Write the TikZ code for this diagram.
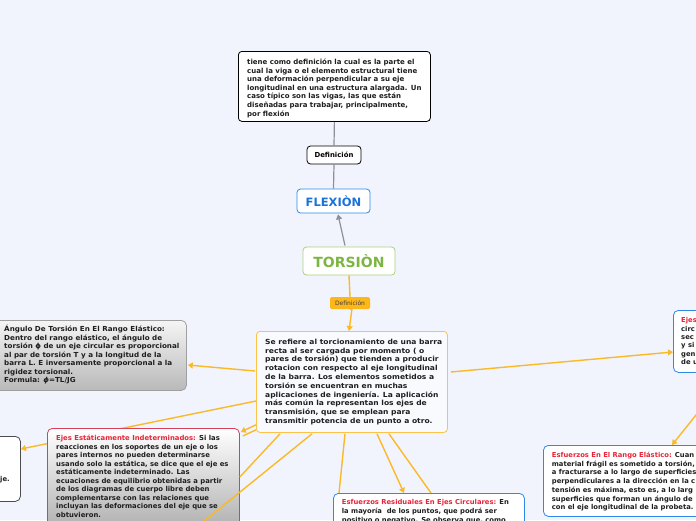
\documentclass[tikz,border=0pt]{standalone}
\usepackage{fontspec}
\setmainfont{DejaVu Sans}
\newfontfamily\fmain[FakeStretch=1.08]{DejaVu Sans}
\newfontfamily\fang[FakeStretch=1.04]{DejaVu Sans}
\usetikzlibrary{arrows.meta,calc}
\definecolor{bg}{RGB}{241,244,252}
\definecolor{org}{RGB}{251,185,40}
\definecolor{orgtag}{RGB}{253,183,24}
\definecolor{gline}{RGB}{140,144,153}
\definecolor{blueb}{RGB}{47,137,232}
\definecolor{bluet}{RGB}{26,115,217}
\definecolor{greenb}{RGB}{168,210,124}
\definecolor{greent}{RGB}{125,181,68}
\definecolor{redt}{RGB}{232,36,58}
\definecolor{redb}{RGB}{214,64,88}
\definecolor{tdark}{RGB}{30,30,30}
\definecolor{grayb}{RGB}{160,160,160}
\tikzset{
  box/.style={draw, rounded corners=3.5pt, line width=0.8pt, inner sep=0pt, anchor=north west},
  txt/.style={anchor=north west, inner sep=0pt, align=left, text=tdark,
    font=\fontsize{6.8}{8.6}\selectfont\bfseries},
  oline/.style={draw=org, line width=1.4pt},
  oarrow/.style={oline, -{Triangle[length=5pt,width=6pt]}},
  gconn/.style={draw=gline, line width=1.2pt},
}
\begin{document}
\begin{tikzpicture}[x=1pt,y=-1pt]
\useasboundingbox (0,0) rectangle (696,520);
\fill[bg] (0,0) rectangle (696,520);

% boxes
\node[box, draw=black, fill=white, minimum width=192pt, minimum height=70pt] (top) at (238,51) {};
\node[box, draw=black, fill=white, minimum width=54pt, minimum height=18pt, font=\fontsize{6.9}{8}\selectfont\bfseries, anchor=center] (def1) at (334,155) {Definición};
\node[box, draw=blueb, fill=white, minimum width=73pt, minimum height=24pt, anchor=center, text=bluet, font=\fontsize{11.5}{13}\selectfont\bfseries] (flex) at (333.5,201) {FLEXIÒN};
\node[box, draw=greenb, fill=white, minimum width=92pt, minimum height=28pt, anchor=center, text=greent, font=\fontsize{14}{16}\selectfont\bfseries] (tors) at (349,261) {TORSIÒN};
\node[draw=none, fill=orgtag, rounded corners=1.5pt, minimum width=40pt, minimum height=12pt, inner sep=0pt, text=black!75, font=\fontsize{6}{7}\selectfont] (def2) at (350,303) {Definición};
\node[box, draw=org!85, fill=white!50!bg, minimum width=191pt, minimum height=101pt] (main) at (256,331) {};

% connectors (behind other boxes)
\draw[gconn] (top.south) -- (def1.north);
\draw[gconn] (def1.south) -- (flex.north);
\draw[gconn, -{Triangle[length=5pt,width=6pt]}] ($(tors.north)+(-4,-1)$) -- ($(flex.south)+(4.5,1)$);
\draw[oline] (tors.south) -- (def2.north);
\draw[oarrow] (def2.south) -- (main.north |- def2.south) -- ($(main.north west)+(93,0)$);

\node[box, draw=black!70, fill=white, minimum width=30pt, minimum height=65pt, rounded corners=5pt] (lbot) at (-10,436) {};
\draw[oarrow] ($(main.north west)+(0,70)$) -- ($(lbot.north east)+(0,13)$);
\node[txt] (lbottxt) at (0,476) {je.};

\node[box, draw=grayb, top color=white!92!gray, bottom color=gray!55, minimum width=192pt, minimum height=70pt, rounded corners=5pt] (ang) at (-6,320) {};
\draw[oarrow] ($(main.north west)+(-1,40)$) -- ($(ang.north east)+(1,45)$);
\node[txt, font=\fang\fontsize{6.9}{8.5}\selectfont\bfseries] (angtxt) at (4,325.3) {Ángulo De Torsión En El Rango Elástico:\\
Dentro del rango elástico, el ángulo de\\
torsión ϕ de un eje circular es proporcional\\
al par de torsión T y a la longitud de la\\
barra L. E inversamente proporcional a la\\
rigidez torsional.\\
Formula: \textit{ϕ}=TL/JG};

\node[box, draw=redb, top color=white, bottom color=gray!65, minimum width=192pt, minimum height=105pt, rounded corners=5pt] (ejes) at (47,428) {};
\draw[oarrow] ($(main.south west)+(0,-8)$) -- ($(ejes.north east)+(1,4)$);
\draw[oline] ($(main.south west)+(0,-3)$) -- ($(ejes.north east)+(3,8)$);
\draw[oline] ($(main.south west)+(24,1)$) -- ($(ejes.north east)+(0,49)$);
\draw[oline] ($(main.south west)+(56,1)$) -- (198,526);
\node[txt, font=\fontsize{6.85}{8.45}\selectfont\bfseries] (ejestxt) at (56,435.3) {\textcolor{redt}{Ejes Estáticamente Indeterminados:} Si las\\
reacciones en los soportes de un eje o los\\
pares internos no pueden determinarse\\
usando solo la estática, se dice que el eje es\\
estáticamente indeterminado. Las\\
ecuaciones de equilibrio obtenidas a partir\\
de los diagramas de cuerpo libre deben\\
complementarse con las relaciones que\\
incluyan las deformaciones del eje que se\\
obtuvieron.};

\node[box, draw=blueb, fill=white, minimum width=191pt, minimum height=40pt, rounded corners=5pt] (resid) at (333,493) {};
\draw[oline] ($(main.south west)+(89,1)$) -- ($(resid.north west)+(6,0)$);
\draw[oarrow] ($(main.south west)+(121,1)$) -- ($(resid.north west)+(71,0)$);
\draw[oline] ($(main.south west)+(133,1)$) -- ($(resid.north west)+(98,0)$);
\node[txt] (residtxt) at (341.7,499.5) {\textcolor{redt}{Esfuerzos Residuales En Ejes Circulares:} En\\
la mayoría\ \ de los puntos, que podrá ser\\
positivo o negativo. Se observa que, como};

\node[box, draw=blueb, fill=white, minimum width=40pt, minimum height=62pt, rounded corners=5pt] (rejes) at (673,310) {};
\draw[oarrow] ($(main.north east)+(3,41)$) -- ($(rejes.north west)+(0,42)$);
\node[txt, font=\fontsize{6.8}{8.3}\selectfont\bfseries] (rejestxt) at (681,317.5) {\textcolor{redt}{Ejes}\\circ\\sec\\y si\\gen\\de u};

\node[box, draw=blueb, fill=white, minimum width=170pt, minimum height=71pt, rounded corners=5pt] (rango) at (543,445) {};
\coordinate (offr) at (700,410);
\draw[oarrow] (offr) -- ($(rango.north west)+(129,0)$);
\node[txt, font=\fontsize{6.8}{8.75}\selectfont\bfseries] (rangotxt) at (551.7,451.8) {\textcolor{redt}{Esfuerzos En El Rango Elástico:} Cuan\\
material frágil es sometido a torsión,\\
a fracturarse a lo largo de superficies\\
perpendiculares a la dirección en la c\\
tensión es máxima, esto es, a lo larg\\
superficies que forman un ángulo de\\
con el eje longitudinal de la probeta.};

% texts in top and main boxes
\node[txt, font=\fontsize{7.0}{8.6}\selectfont\bfseries] (toptxt) at (247,58.6) {tiene como definición la cual es la parte el\\
cual la viga o el elemento estructural tiene\\
una deformación perpendicular a su eje\\
longitudinal en una estructura alargada. Un\\
caso típico son las vigas, las que están\\
diseñadas para trabajar, principalmente,\\
por flexión};
\node[txt, font=\fmain\fontsize{7.0}{8.8}\selectfont\bfseries] (maintxt) at (265,338.8) {Se refiere al torcionamiento de una barra\\
recta al ser cargada por momento ( o\\
pares de torsión) que tienden a producir\\
rotacion con respecto al eje longitudinal\\
de la barra. Los elementos sometidos a\\
torsión se encuentran en muchas\\
aplicaciones de ingeniería. La aplicación\\
más común la representan los ejes de\\
transmisión, que se emplean para\\
transmitir potencia de un punto a otro.};
\end{tikzpicture}
\end{document}
